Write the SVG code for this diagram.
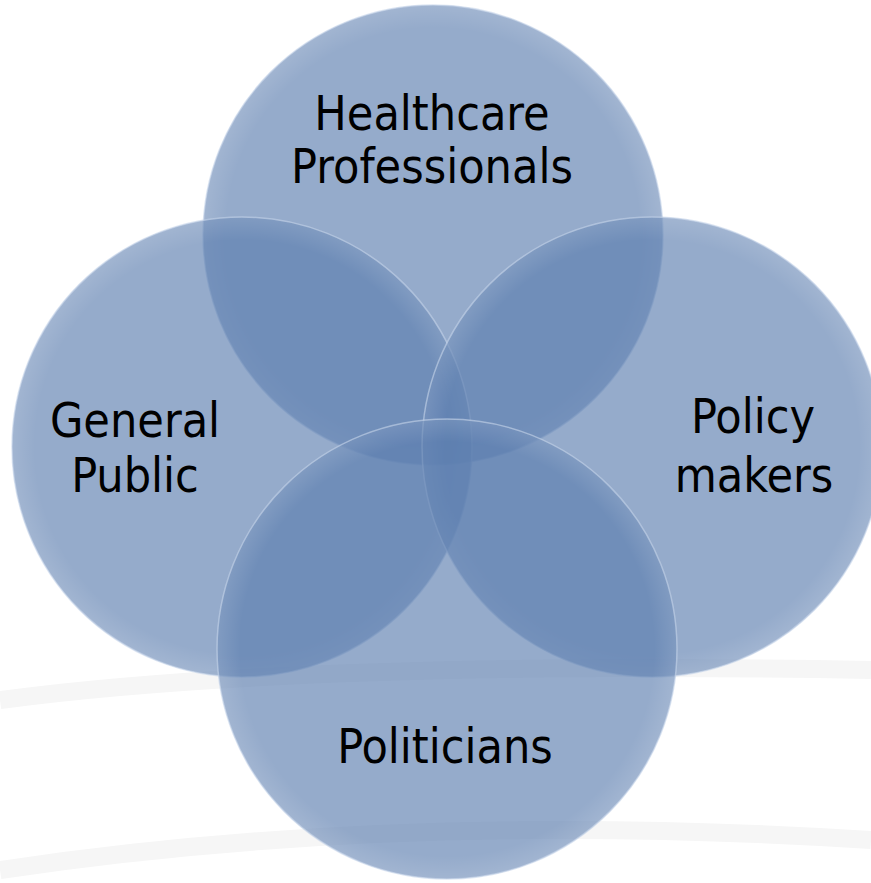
<svg xmlns="http://www.w3.org/2000/svg" width="871" height="883" viewBox="0 0 871 883">
<style>
.c{fill:#5c7eaf;fill-opacity:0.65;stroke:#c4d4ea;stroke-opacity:0.6;stroke-width:1.5}
.t{font-family:"DejaVu Sans Condensed","DejaVu Sans",sans-serif;font-size:48px;fill:#000;text-anchor:middle}
.bg{fill:none;stroke:#f6f6f6;stroke-width:18}
</style>
<defs>
<radialGradient id="rim" cx="0.5" cy="0.5" r="0.5">
<stop offset="0.9" stop-color="#ffffff" stop-opacity="0"/>
<stop offset="1" stop-color="#ffffff" stop-opacity="0.12"/>
</radialGradient>
</defs>
<rect width="871" height="883" fill="#ffffff"/>
<path class="bg" d="M0 700 Q300 660 871 670"/>
<path class="bg" d="M0 870 Q400 810 871 840"/>
<g id="healthcare">
<circle class="c" cx="433" cy="235" r="230"/>
<circle cx="433" cy="235" r="230" fill="url(#rim)"/>
<text class="t" x="432" y="130">Healthcare</text>
<text class="t" x="432" y="183">Professionals</text>
</g>
<g id="general-public">
<circle class="c" cx="242" cy="447" r="230"/>
<circle cx="242" cy="447" r="230" fill="url(#rim)"/>
<text class="t" x="135" y="437">General</text>
<text class="t" x="135" y="492">Public</text>
</g>
<g id="policy-makers">
<circle class="c" cx="652" cy="447" r="230"/>
<circle cx="652" cy="447" r="230" fill="url(#rim)"/>
<text class="t" x="753" y="433">Policy</text>
<text class="t" x="754" y="492">makers</text>
</g>
<g id="politicians">
<circle class="c" cx="447" cy="649" r="230"/>
<circle cx="447" cy="649" r="230" fill="url(#rim)"/>
<text class="t" x="445" y="763">Politicians</text>
</g>
<g id="connectors"/>
</svg>
